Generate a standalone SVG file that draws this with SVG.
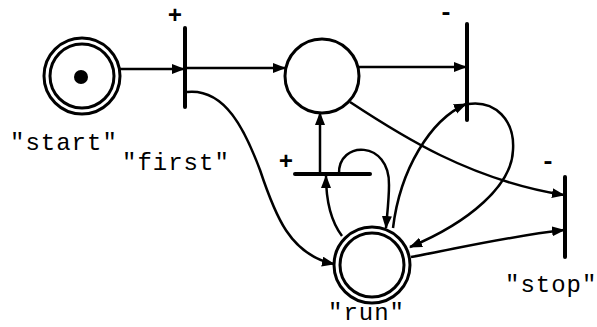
<svg xmlns="http://www.w3.org/2000/svg" width="597" height="327" viewBox="0 0 597 327">
<style>
.place{fill:none;stroke:#000;stroke-width:3}
.bar{stroke:#000;stroke-width:4;stroke-linecap:round}
.edge{fill:none;stroke:#000;stroke-width:2.5;marker-end:url(#ah)}
.lbl{font-family:"Liberation Mono","DejaVu Sans Mono",monospace;font-size:24px;letter-spacing:1px;fill:#000}
.sign{font-family:"Liberation Mono","DejaVu Sans Mono",monospace;font-size:24px;font-weight:bold;fill:#000;text-anchor:middle}
</style>
<defs>
<marker id="ah" markerUnits="userSpaceOnUse" markerWidth="13" markerHeight="11" refX="12" refY="5" orient="auto">
<path d="M0,0 L13,5 L0,10 z" fill="#000"/>
</marker>
</defs>
<rect width="597" height="327" fill="#fff"/>
<g id="connectors">
<path class="edge" d="M120,69 L184,69"/>
<path class="edge" d="M187,68 L285,68"/>
<path class="edge" d="M358,67 L466,67"/>
<path class="edge" d="M187,92 C225,88 245,130 260,170 C275,215 290,255 334,264"/>
<path class="edge" d="M350,102 C400,135 470,180 564,195"/>
<path class="edge" d="M411,257 C460,248 510,236 564,230"/>
<path class="edge" d="M393,228 C400,170 430,120 466,104"/>
<path class="edge" d="M468,104 C495,100 515,120 513,150 C512,185 470,222 410,247"/>
<path class="edge" d="M320,174 L320,113"/>
<path class="edge" d="M342,236 C330,220 326,200 326,176"/>
<path class="edge" d="M339,174 C338,140 390,140 389,185 C389,200 387,215 386,228"/>
</g>
<g id="start">
<circle class="place" cx="82" cy="76" r="38"/>
<circle class="place" cx="82" cy="76" r="32"/>
<circle cx="81" cy="77" r="7" fill="#000"/>
<text class="lbl" x="10" y="150">"start"</text>
</g>
<g id="first">
<line class="bar" x1="185" y1="28" x2="185" y2="107"/>
<text class="sign" x="175" y="23">+</text>
<text class="lbl" x="122" y="170">"first"</text>
</g>
<g id="middle">
<circle class="place" cx="322" cy="76" r="37"/>
</g>
<g id="t2">
<line class="bar" x1="467" y1="24" x2="467" y2="120"/>
<text class="sign" x="446" y="20">-</text>
</g>
<g id="t3">
<line class="bar" x1="295" y1="174" x2="370" y2="174"/>
<text class="sign" x="286" y="169">+</text>
</g>
<g id="run">
<circle class="place" cx="372" cy="265" r="38"/>
<circle class="place" cx="372" cy="265" r="32"/>
<text class="lbl" x="328" y="320">"run"</text>
</g>
<g id="stop">
<line class="bar" x1="565" y1="177" x2="565" y2="257"/>
<text class="sign" x="548" y="169">-</text>
<text class="lbl" x="505" y="292">"stop"</text>
</g>
</svg>
